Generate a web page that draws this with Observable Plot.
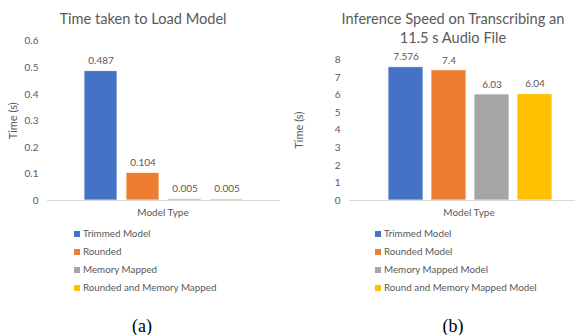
<!DOCTYPE html>
<html>
<head>
<meta charset="utf-8">
<script src="https://cdn.jsdelivr.net/npm/d3@7"></script>
<script src="https://cdn.jsdelivr.net/npm/@observablehq/plot@0.6"></script>
<style>
  html, body { margin: 0; padding: 0; background: #fff; }
  #root { position: relative; width: 576px; height: 335px; overflow: hidden; font-family: Lato, "Open Sans", sans-serif; color: #595959; }
  .abs { position: absolute; }
  .title { font-size: 14.6px; text-align: center; line-height: 19px; white-space: nowrap; }
  .xlabel { font-size: 10px; text-align: center; white-space: nowrap; }
  .legend { font-size: 9.8px; line-height: 18px; white-space: nowrap; }
  .legend .sw { display: inline-block; width: 6px; height: 6px; margin-right: 3px; vertical-align: 0px; }
  .cap { font-family: "Liberation Serif", "DejaVu Serif", serif; font-size: 18px; color: #000; text-align: center; line-height: 20px; }
</style>
</head>
<body>
<div id="root"></div>
<script>
// ---- Data ----
const colors = ["#4472C4", "#ED7D31", "#A5A5A5", "#FFC000"];

const loadSeries = ["Trimmed Model", "Rounded", "Memory Mapped", "Rounded and Memory Mapped"];
const loadTimes = [0.487, 0.104, 0.005, 0.005];
const loadTicks = [0, 0.1, 0.2, 0.3, 0.4, 0.5, 0.6];

const inferSeries = ["Trimmed Model", "Rounded Model", "Memory Mapped Model", "Round and Memory Mapped Model"];
const inferTimes = [7.576, 7.4, 6.03, 6.04];
const inferTicks = [0, 1, 2, 3, 4, 5, 6, 7, 8];

const root = document.getElementById("root");

function panel({left, width, series, values, ticks, yMax, marginTop, marginLeft, marginRight, insetLeft, insetRight, padInner, titleLines, titleCx, xLabelCx, legendLeft, capCx, caption, labelFmt}) {
  const data = series.map((s, i) => ({series: s, value: values[i], label: labelFmt[i]}));
  const chart = Plot.plot({
    width, height: 220,
    marginTop, marginBottom: 20, marginLeft, marginRight,
    style: {fontFamily: "Lato, 'Open Sans', sans-serif", fontSize: "10px", color: "#595959", background: "transparent"},
    x: {domain: series, axis: null, paddingInner: padInner, paddingOuter: padInner / 2, insetLeft, insetRight},
    y: {domain: [0, yMax]},
    color: {domain: series, range: colors},
    marks: [
      Plot.axisY({ticks, tickSize: 0, tickPadding: 9, label: null, tickFormat: d => String(d), fontSize: 10}),
      Plot.axisY({ticks: [], tickSize: 0, label: "Time (s)", labelAnchor: "center", labelArrow: "none", labelOffset: marginLeft - 9, fontSize: 11}),
      Plot.barY(data, {x: "series", y: "value", fill: "series", stroke: "white", strokeWidth: 0.75}),
      Plot.ruleY([0], {stroke: "#d9d9d9", strokeWidth: 1.2}),
      Plot.text(data, {x: "series", y: "value", text: "label", dy: -10, fontSize: 10, fill: "#595959"})
    ]
  });
  chart.classList.add("abs");
  chart.style.left = left + "px";
  chart.style.top = "0px";
  root.appendChild(chart);

  const t = document.createElement("div");
  t.className = "abs title";
  t.style.left = (titleCx - 150) + "px"; t.style.width = "300px"; t.style.top = "9px";
  t.innerHTML = titleLines.join("<br>");
  root.appendChild(t);

  const xl = document.createElement("div");
  xl.className = "abs xlabel";
  xl.style.left = (xLabelCx - 60) + "px"; xl.style.width = "120px"; xl.style.top = "206px";
  xl.textContent = "Model Type";
  root.appendChild(xl);

  const lg = document.createElement("div");
  lg.className = "abs legend";
  lg.style.left = legendLeft + "px"; lg.style.top = "224px";
  series.forEach((s, i) => {
    const row = document.createElement("div");
    const sw = document.createElement("span");
    sw.className = "sw"; sw.style.background = colors[i];
    row.appendChild(sw);
    row.appendChild(document.createTextNode(s));
    lg.appendChild(row);
  });
  root.appendChild(lg);

  const c = document.createElement("div");
  c.className = "abs cap";
  c.style.left = (capCx - 30) + "px"; c.style.width = "60px"; c.style.top = "316px";
  c.textContent = caption;
  root.appendChild(c);
}

panel({
  left: 0, width: 288, series: loadSeries, values: loadTimes, ticks: loadTicks, yMax: 0.6,
  marginTop: 40.7, marginLeft: 47, marginRight: 8, insetLeft: 31.3, insetRight: 32.4, padInner: 0.22,
  titleLines: ["Time taken to Load Model"], titleCx: 143, xLabelCx: 163, legendLeft: 74, capCx: 142, caption: "(a)",
  labelFmt: ["0.487", "0.104", "0.005", "0.005"]
});

panel({
  left: 286, width: 290, series: inferSeries, values: inferTimes, ticks: inferTicks, yMax: 8,
  marginTop: 59.3, marginLeft: 63, marginRight: 1, insetLeft: 33.7, insetRight: 18.3, padInner: 0.195,
  titleLines: ["Inference Speed on Transcribing an", "11.5 s Audio File"], titleCx: 453, xLabelCx: 469, legendLeft: 375, capCx: 453, caption: "(b)",
  labelFmt: ["7.576", "7.4", "6.03", "6.04"]
});
</script>
</body>
</html>
